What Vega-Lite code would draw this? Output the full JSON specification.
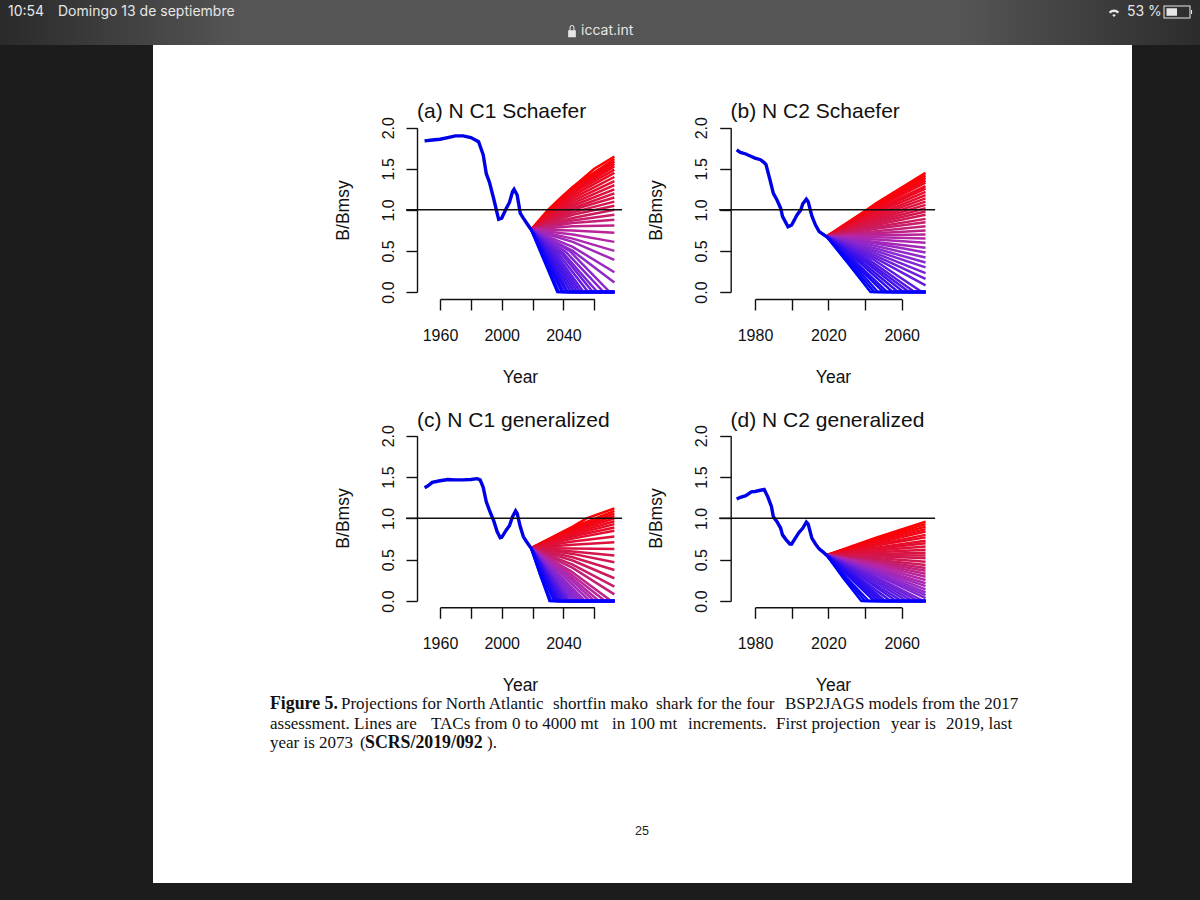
{"$schema":"https://vega.github.io/schema/vega-lite/v6.json","width":1200,"height":900,"padding":0,"autosize":"none","background":"#1c1c1c",
"config":{"view":{"stroke":null},"axis":{"domainColor":"#111","tickColor":"#111","domainWidth":1.4,"tickWidth":1.4,"tickSize":11,"grid":false,"labelFont":"Liberation Sans","titleFont":"Liberation Sans","labelColor":"#111","titleColor":"#111","titleFontWeight":"normal","labelFontSize":16,"titleFontSize":17.5,"labelOverlap":false,"labelFlush":false,"titleBaseline":"middle"}},
"resolve":{"scale":{"x":"independent","y":"independent","color":"independent"},"axis":{"x":"independent","y":"independent"}},
"datasets":{
"histA":[{"year":1950,"bb":1.84},{"year":1955,"bb":1.85},{"year":1960,"bb":1.86},{"year":1965,"bb":1.88},{"year":1970,"bb":1.9},{"year":1975,"bb":1.9},{"year":1980,"bb":1.88},{"year":1985,"bb":1.83},{"year":1988,"bb":1.67},{"year":1990,"bb":1.44},{"year":1992,"bb":1.34},{"year":1995,"bb":1.12},{"year":1997,"bb":0.96},{"year":1998,"bb":0.885},{"year":2000,"bb":0.9},{"year":2003,"bb":1.02},{"year":2005,"bb":1.09},{"year":2007,"bb":1.22},{"year":2008,"bb":1.25},{"year":2010,"bb":1.18},{"year":2012,"bb":0.96},{"year":2014,"bb":0.9},{"year":2017,"bb":0.815},{"year":2019,"bb":0.76}],
"histB":[{"year":1970,"bb":1.73},{"year":1972,"bb":1.7},{"year":1975,"bb":1.68},{"year":1978,"bb":1.65},{"year":1980,"bb":1.63},{"year":1983,"bb":1.61},{"year":1985,"bb":1.575},{"year":1986,"bb":1.55},{"year":1988,"bb":1.38},{"year":1990,"bb":1.2},{"year":1992,"bb":1.12},{"year":1994,"bb":1.02},{"year":1995,"bb":0.92},{"year":1998,"bb":0.795},{"year":2000,"bb":0.815},{"year":2003,"bb":0.94},{"year":2005,"bb":1.0},{"year":2006,"bb":1.07},{"year":2008,"bb":1.13},{"year":2009,"bb":1.1},{"year":2011,"bb":0.925},{"year":2013,"bb":0.815},{"year":2015,"bb":0.735},{"year":2017,"bb":0.705},{"year":2019,"bb":0.675}],
"histC":[{"year":1950,"bb":1.37},{"year":1952,"bb":1.39},{"year":1955,"bb":1.435},{"year":1960,"bb":1.455},{"year":1965,"bb":1.47},{"year":1970,"bb":1.465},{"year":1975,"bb":1.465},{"year":1980,"bb":1.47},{"year":1984,"bb":1.48},{"year":1986,"bb":1.465},{"year":1988,"bb":1.375},{"year":1990,"bb":1.2},{"year":1992,"bb":1.1},{"year":1995,"bb":0.96},{"year":1997,"bb":0.84},{"year":1999,"bb":0.765},{"year":2000,"bb":0.77},{"year":2003,"bb":0.86},{"year":2005,"bb":0.91},{"year":2007,"bb":1.02},{"year":2009,"bb":1.09},{"year":2010,"bb":1.06},{"year":2012,"bb":0.9},{"year":2014,"bb":0.78},{"year":2016,"bb":0.72},{"year":2019,"bb":0.64}],
"histD":[{"year":1970,"bb":1.235},{"year":1972,"bb":1.255},{"year":1975,"bb":1.275},{"year":1978,"bb":1.32},{"year":1980,"bb":1.325},{"year":1983,"bb":1.34},{"year":1985,"bb":1.35},{"year":1987,"bb":1.26},{"year":1989,"bb":1.14},{"year":1990,"bb":1.02},{"year":1992,"bb":0.96},{"year":1994,"bb":0.88},{"year":1995,"bb":0.8},{"year":1997,"bb":0.74},{"year":1999,"bb":0.69},{"year":2000,"bb":0.69},{"year":2002,"bb":0.76},{"year":2004,"bb":0.83},{"year":2006,"bb":0.88},{"year":2008,"bb":0.955},{"year":2009,"bb":0.93},{"year":2011,"bb":0.76},{"year":2013,"bb":0.69},{"year":2015,"bb":0.63},{"year":2017,"bb":0.595},{"year":2019,"bb":0.555}],
"projA":[{"tac":0,"year":2019,"bb":0.76},{"tac":0,"year":2030,"bb":1.0},{"tac":0,"year":2040,"bb":1.18},{"tac":0,"year":2060,"bb":1.5},{"tac":0,"year":2073,"bb":1.65},
{"tac":100,"year":2019,"bb":0.76},{"tac":100,"year":2046,"bb":1.28},{"tac":100,"year":2073,"bb":1.62},
{"tac":200,"year":2019,"bb":0.76},{"tac":200,"year":2046,"bb":1.26},{"tac":200,"year":2073,"bb":1.59},
{"tac":300,"year":2019,"bb":0.76},{"tac":300,"year":2046,"bb":1.24},{"tac":300,"year":2073,"bb":1.56},
{"tac":400,"year":2019,"bb":0.76},{"tac":400,"year":2046,"bb":1.22},{"tac":400,"year":2073,"bb":1.53},
{"tac":500,"year":2019,"bb":0.76},{"tac":500,"year":2046,"bb":1.2},{"tac":500,"year":2073,"bb":1.49},
{"tac":600,"year":2019,"bb":0.76},{"tac":600,"year":2046,"bb":1.17},{"tac":600,"year":2073,"bb":1.45},
{"tac":700,"year":2019,"bb":0.76},{"tac":700,"year":2046,"bb":1.14},{"tac":700,"year":2073,"bb":1.4},
{"tac":800,"year":2019,"bb":0.76},{"tac":800,"year":2046,"bb":1.11},{"tac":800,"year":2073,"bb":1.35},
{"tac":900,"year":2019,"bb":0.76},{"tac":900,"year":2046,"bb":1.08},{"tac":900,"year":2073,"bb":1.3},
{"tac":1000,"year":2019,"bb":0.76},{"tac":1000,"year":2046,"bb":1.05},{"tac":1000,"year":2073,"bb":1.25},
{"tac":1100,"year":2019,"bb":0.76},{"tac":1100,"year":2046,"bb":1.02},{"tac":1100,"year":2073,"bb":1.2},
{"tac":1200,"year":2019,"bb":0.76},{"tac":1200,"year":2046,"bb":1.0},{"tac":1200,"year":2073,"bb":1.15},
{"tac":1300,"year":2019,"bb":0.76},{"tac":1300,"year":2046,"bb":0.97},{"tac":1300,"year":2073,"bb":1.1},
{"tac":1400,"year":2019,"bb":0.76},{"tac":1400,"year":2046,"bb":0.94},{"tac":1400,"year":2073,"bb":1.05},
{"tac":1500,"year":2019,"bb":0.76},{"tac":1500,"year":2046,"bb":0.9},{"tac":1500,"year":2073,"bb":1.0},
{"tac":1600,"year":2019,"bb":0.76},{"tac":1600,"year":2046,"bb":0.87},{"tac":1600,"year":2073,"bb":0.94},
{"tac":1700,"year":2019,"bb":0.76},{"tac":1700,"year":2046,"bb":0.84},{"tac":1700,"year":2073,"bb":0.88},
{"tac":1800,"year":2019,"bb":0.76},{"tac":1800,"year":2046,"bb":0.8},{"tac":1800,"year":2073,"bb":0.81},
{"tac":1900,"year":2019,"bb":0.76},{"tac":1900,"year":2046,"bb":0.75},{"tac":1900,"year":2073,"bb":0.72},
{"tac":2000,"year":2019,"bb":0.76},{"tac":2000,"year":2046,"bb":0.7},{"tac":2000,"year":2073,"bb":0.61},
{"tac":2100,"year":2019,"bb":0.76},{"tac":2100,"year":2046,"bb":0.65},{"tac":2100,"year":2073,"bb":0.5},
{"tac":2200,"year":2019,"bb":0.76},{"tac":2200,"year":2046,"bb":0.61},{"tac":2200,"year":2073,"bb":0.39},
{"tac":2300,"year":2019,"bb":0.76},{"tac":2300,"year":2046,"bb":0.55},{"tac":2300,"year":2073,"bb":0.24},
{"tac":2400,"year":2019,"bb":0.76},{"tac":2400,"year":2046,"bb":0.5},{"tac":2400,"year":2073,"bb":0.115},
{"tac":2500,"year":2019,"bb":0.76},{"tac":2500,"year":2044,"bb":0.5},{"tac":2500,"year":2070,"bb":0},{"tac":2500,"year":2073,"bb":0},
{"tac":2600,"year":2019,"bb":0.76},{"tac":2600,"year":2042,"bb":0.48},{"tac":2600,"year":2066,"bb":0},{"tac":2600,"year":2073,"bb":0},
{"tac":2700,"year":2019,"bb":0.76},{"tac":2700,"year":2040,"bb":0.47},{"tac":2700,"year":2062,"bb":0},{"tac":2700,"year":2073,"bb":0},
{"tac":2800,"year":2019,"bb":0.76},{"tac":2800,"year":2039,"bb":0.46},{"tac":2800,"year":2059,"bb":0},{"tac":2800,"year":2073,"bb":0},
{"tac":2900,"year":2019,"bb":0.76},{"tac":2900,"year":2037,"bb":0.46},{"tac":2900,"year":2056,"bb":0},{"tac":2900,"year":2073,"bb":0},
{"tac":3000,"year":2019,"bb":0.76},{"tac":3000,"year":2036,"bb":0.44},{"tac":3000,"year":2053,"bb":0},{"tac":3000,"year":2073,"bb":0},
{"tac":3100,"year":2019,"bb":0.76},{"tac":3100,"year":2035,"bb":0.43},{"tac":3100,"year":2051,"bb":0},{"tac":3100,"year":2073,"bb":0},
{"tac":3200,"year":2019,"bb":0.76},{"tac":3200,"year":2034,"bb":0.42},{"tac":3200,"year":2049,"bb":0},{"tac":3200,"year":2073,"bb":0},
{"tac":3300,"year":2019,"bb":0.76},{"tac":3300,"year":2033,"bb":0.41},{"tac":3300,"year":2047,"bb":0},{"tac":3300,"year":2073,"bb":0},
{"tac":3400,"year":2019,"bb":0.76},{"tac":3400,"year":2032,"bb":0.4},{"tac":3400,"year":2045,"bb":0},{"tac":3400,"year":2073,"bb":0},
{"tac":3500,"year":2019,"bb":0.76},{"tac":3500,"year":2031,"bb":0.4},{"tac":3500,"year":2043,"bb":0},{"tac":3500,"year":2073,"bb":0},
{"tac":3600,"year":2019,"bb":0.76},{"tac":3600,"year":2030,"bb":0.39},{"tac":3600,"year":2042,"bb":0},{"tac":3600,"year":2073,"bb":0},
{"tac":3700,"year":2019,"bb":0.76},{"tac":3700,"year":2030,"bb":0.38},{"tac":3700,"year":2040,"bb":0},{"tac":3700,"year":2073,"bb":0},
{"tac":3800,"year":2019,"bb":0.76},{"tac":3800,"year":2029,"bb":0.38},{"tac":3800,"year":2039,"bb":0},{"tac":3800,"year":2073,"bb":0},
{"tac":3900,"year":2019,"bb":0.76},{"tac":3900,"year":2028,"bb":0.38},{"tac":3900,"year":2037,"bb":0},{"tac":3900,"year":2073,"bb":0},
{"tac":4000,"year":2019,"bb":0.76},{"tac":4000,"year":2027,"bb":0.4},{"tac":4000,"year":2036,"bb":0},{"tac":4000,"year":2073,"bb":0}],
"projB":[{"tac":0,"year":2019,"bb":0.675},{"tac":0,"year":2041,"bb":1.0},{"tac":0,"year":2046,"bb":1.08},{"tac":0,"year":2073,"bb":1.45},
{"tac":100,"year":2019,"bb":0.675},{"tac":100,"year":2046,"bb":1.07},{"tac":100,"year":2073,"bb":1.42},
{"tac":200,"year":2019,"bb":0.675},{"tac":200,"year":2046,"bb":1.05},{"tac":200,"year":2073,"bb":1.39},
{"tac":300,"year":2019,"bb":0.675},{"tac":300,"year":2046,"bb":1.04},{"tac":300,"year":2073,"bb":1.36},
{"tac":400,"year":2019,"bb":0.675},{"tac":400,"year":2046,"bb":1.02},{"tac":400,"year":2073,"bb":1.33},
{"tac":500,"year":2019,"bb":0.675},{"tac":500,"year":2046,"bb":1.0},{"tac":500,"year":2073,"bb":1.29},
{"tac":600,"year":2019,"bb":0.675},{"tac":600,"year":2046,"bb":0.985},{"tac":600,"year":2073,"bb":1.26},
{"tac":700,"year":2019,"bb":0.675},{"tac":700,"year":2046,"bb":0.965},{"tac":700,"year":2073,"bb":1.22},
{"tac":800,"year":2019,"bb":0.675},{"tac":800,"year":2046,"bb":0.94},{"tac":800,"year":2073,"bb":1.18},
{"tac":900,"year":2019,"bb":0.675},{"tac":900,"year":2046,"bb":0.92},{"tac":900,"year":2073,"bb":1.14},
{"tac":1000,"year":2019,"bb":0.675},{"tac":1000,"year":2046,"bb":0.9},{"tac":1000,"year":2073,"bb":1.1},
{"tac":1100,"year":2019,"bb":0.675},{"tac":1100,"year":2046,"bb":0.88},{"tac":1100,"year":2073,"bb":1.06},
{"tac":1200,"year":2019,"bb":0.675},{"tac":1200,"year":2046,"bb":0.86},{"tac":1200,"year":2073,"bb":1.02},
{"tac":1300,"year":2019,"bb":0.675},{"tac":1300,"year":2046,"bb":0.84},{"tac":1300,"year":2073,"bb":0.98},
{"tac":1400,"year":2019,"bb":0.675},{"tac":1400,"year":2046,"bb":0.815},{"tac":1400,"year":2073,"bb":0.94},
{"tac":1500,"year":2019,"bb":0.675},{"tac":1500,"year":2046,"bb":0.79},{"tac":1500,"year":2073,"bb":0.89},
{"tac":1600,"year":2019,"bb":0.675},{"tac":1600,"year":2046,"bb":0.77},{"tac":1600,"year":2073,"bb":0.85},
{"tac":1700,"year":2019,"bb":0.675},{"tac":1700,"year":2046,"bb":0.74},{"tac":1700,"year":2073,"bb":0.8},
{"tac":1800,"year":2019,"bb":0.675},{"tac":1800,"year":2046,"bb":0.715},{"tac":1800,"year":2073,"bb":0.75},
{"tac":1900,"year":2019,"bb":0.675},{"tac":1900,"year":2046,"bb":0.69},{"tac":1900,"year":2073,"bb":0.7},
{"tac":2000,"year":2019,"bb":0.675},{"tac":2000,"year":2046,"bb":0.665},{"tac":2000,"year":2073,"bb":0.65},
{"tac":2100,"year":2019,"bb":0.675},{"tac":2100,"year":2046,"bb":0.64},{"tac":2100,"year":2073,"bb":0.6},
{"tac":2200,"year":2019,"bb":0.675},{"tac":2200,"year":2046,"bb":0.61},{"tac":2200,"year":2073,"bb":0.54},
{"tac":2300,"year":2019,"bb":0.675},{"tac":2300,"year":2046,"bb":0.59},{"tac":2300,"year":2073,"bb":0.48},
{"tac":2400,"year":2019,"bb":0.675},{"tac":2400,"year":2046,"bb":0.56},{"tac":2400,"year":2073,"bb":0.42},
{"tac":2500,"year":2019,"bb":0.675},{"tac":2500,"year":2046,"bb":0.53},{"tac":2500,"year":2073,"bb":0.36},
{"tac":2600,"year":2019,"bb":0.675},{"tac":2600,"year":2046,"bb":0.5},{"tac":2600,"year":2073,"bb":0.3},
{"tac":2700,"year":2019,"bb":0.675},{"tac":2700,"year":2046,"bb":0.47},{"tac":2700,"year":2073,"bb":0.23},
{"tac":2800,"year":2019,"bb":0.675},{"tac":2800,"year":2046,"bb":0.44},{"tac":2800,"year":2073,"bb":0.16},
{"tac":2900,"year":2019,"bb":0.675},{"tac":2900,"year":2046,"bb":0.41},{"tac":2900,"year":2073,"bb":0.08},
{"tac":3000,"year":2019,"bb":0.675},{"tac":3000,"year":2045,"bb":0.39},{"tac":3000,"year":2071,"bb":0},{"tac":3000,"year":2073,"bb":0},
{"tac":3100,"year":2019,"bb":0.675},{"tac":3100,"year":2043,"bb":0.38},{"tac":3100,"year":2067,"bb":0},{"tac":3100,"year":2073,"bb":0},
{"tac":3200,"year":2019,"bb":0.675},{"tac":3200,"year":2041,"bb":0.38},{"tac":3200,"year":2064,"bb":0},{"tac":3200,"year":2073,"bb":0},
{"tac":3300,"year":2019,"bb":0.675},{"tac":3300,"year":2040,"bb":0.37},{"tac":3300,"year":2061,"bb":0},{"tac":3300,"year":2073,"bb":0},
{"tac":3400,"year":2019,"bb":0.675},{"tac":3400,"year":2038,"bb":0.37},{"tac":3400,"year":2058,"bb":0},{"tac":3400,"year":2073,"bb":0},
{"tac":3500,"year":2019,"bb":0.675},{"tac":3500,"year":2037,"bb":0.36},{"tac":3500,"year":2055,"bb":0},{"tac":3500,"year":2073,"bb":0},
{"tac":3600,"year":2019,"bb":0.675},{"tac":3600,"year":2035,"bb":0.36},{"tac":3600,"year":2052,"bb":0},{"tac":3600,"year":2073,"bb":0},
{"tac":3700,"year":2019,"bb":0.675},{"tac":3700,"year":2034,"bb":0.35},{"tac":3700,"year":2050,"bb":0},{"tac":3700,"year":2073,"bb":0},
{"tac":3800,"year":2019,"bb":0.675},{"tac":3800,"year":2033,"bb":0.35},{"tac":3800,"year":2047,"bb":0},{"tac":3800,"year":2073,"bb":0},
{"tac":3900,"year":2019,"bb":0.675},{"tac":3900,"year":2032,"bb":0.34},{"tac":3900,"year":2045,"bb":0},{"tac":3900,"year":2073,"bb":0},
{"tac":4000,"year":2019,"bb":0.675},{"tac":4000,"year":2031,"bb":0.34},{"tac":4000,"year":2043,"bb":0},{"tac":4000,"year":2073,"bb":0}],
"projC":[{"tac":0,"year":2019,"bb":0.64},{"tac":0,"year":2046,"bb":0.9},{"tac":0,"year":2055,"bb":1.0},{"tac":0,"year":2073,"bb":1.12},
{"tac":100,"year":2019,"bb":0.64},{"tac":100,"year":2046,"bb":0.89},{"tac":100,"year":2073,"bb":1.09},
{"tac":200,"year":2019,"bb":0.64},{"tac":200,"year":2046,"bb":0.87},{"tac":200,"year":2073,"bb":1.06},
{"tac":300,"year":2019,"bb":0.64},{"tac":300,"year":2046,"bb":0.855},{"tac":300,"year":2073,"bb":1.03},
{"tac":400,"year":2019,"bb":0.64},{"tac":400,"year":2046,"bb":0.84},{"tac":400,"year":2073,"bb":1.0},
{"tac":500,"year":2019,"bb":0.64},{"tac":500,"year":2046,"bb":0.82},{"tac":500,"year":2073,"bb":0.965},
{"tac":600,"year":2019,"bb":0.64},{"tac":600,"year":2046,"bb":0.8},{"tac":600,"year":2073,"bb":0.93},
{"tac":700,"year":2019,"bb":0.64},{"tac":700,"year":2046,"bb":0.78},{"tac":700,"year":2073,"bb":0.89},
{"tac":800,"year":2019,"bb":0.64},{"tac":800,"year":2046,"bb":0.755},{"tac":800,"year":2073,"bb":0.85},
{"tac":900,"year":2019,"bb":0.64},{"tac":900,"year":2046,"bb":0.72},{"tac":900,"year":2073,"bb":0.78},
{"tac":1000,"year":2019,"bb":0.64},{"tac":1000,"year":2046,"bb":0.68},{"tac":1000,"year":2073,"bb":0.71},
{"tac":1100,"year":2019,"bb":0.64},{"tac":1100,"year":2046,"bb":0.635},{"tac":1100,"year":2073,"bb":0.63},
{"tac":1200,"year":2019,"bb":0.64},{"tac":1200,"year":2046,"bb":0.6},{"tac":1200,"year":2073,"bb":0.55},
{"tac":1300,"year":2019,"bb":0.64},{"tac":1300,"year":2046,"bb":0.57},{"tac":1300,"year":2073,"bb":0.47},
{"tac":1400,"year":2019,"bb":0.64},{"tac":1400,"year":2046,"bb":0.53},{"tac":1400,"year":2073,"bb":0.375},
{"tac":1500,"year":2019,"bb":0.64},{"tac":1500,"year":2046,"bb":0.49},{"tac":1500,"year":2073,"bb":0.275},
{"tac":1600,"year":2019,"bb":0.64},{"tac":1600,"year":2046,"bb":0.44},{"tac":1600,"year":2073,"bb":0.173},
{"tac":1700,"year":2019,"bb":0.64},{"tac":1700,"year":2046,"bb":0.4},{"tac":1700,"year":2073,"bb":0.08},
{"tac":1800,"year":2019,"bb":0.64},{"tac":1800,"year":2045,"bb":0.36},{"tac":1800,"year":2071,"bb":0},{"tac":1800,"year":2073,"bb":0},
{"tac":1900,"year":2019,"bb":0.64},{"tac":1900,"year":2043,"bb":0.35},{"tac":1900,"year":2067,"bb":0},{"tac":1900,"year":2073,"bb":0},
{"tac":2000,"year":2019,"bb":0.64},{"tac":2000,"year":2041,"bb":0.35},{"tac":2000,"year":2063,"bb":0},{"tac":2000,"year":2073,"bb":0},
{"tac":2100,"year":2019,"bb":0.64},{"tac":2100,"year":2040,"bb":0.34},{"tac":2100,"year":2060,"bb":0},{"tac":2100,"year":2073,"bb":0},
{"tac":2200,"year":2019,"bb":0.64},{"tac":2200,"year":2038,"bb":0.34},{"tac":2200,"year":2057,"bb":0},{"tac":2200,"year":2073,"bb":0},
{"tac":2300,"year":2019,"bb":0.64},{"tac":2300,"year":2036,"bb":0.34},{"tac":2300,"year":2054,"bb":0},{"tac":2300,"year":2073,"bb":0},
{"tac":2400,"year":2019,"bb":0.64},{"tac":2400,"year":2035,"bb":0.34},{"tac":2400,"year":2052,"bb":0},{"tac":2400,"year":2073,"bb":0},
{"tac":2500,"year":2019,"bb":0.64},{"tac":2500,"year":2034,"bb":0.34},{"tac":2500,"year":2050,"bb":0},{"tac":2500,"year":2073,"bb":0},
{"tac":2600,"year":2019,"bb":0.64},{"tac":2600,"year":2033,"bb":0.34},{"tac":2600,"year":2048,"bb":0},{"tac":2600,"year":2073,"bb":0},
{"tac":2700,"year":2019,"bb":0.64},{"tac":2700,"year":2032,"bb":0.33},{"tac":2700,"year":2046,"bb":0},{"tac":2700,"year":2073,"bb":0},
{"tac":2800,"year":2019,"bb":0.64},{"tac":2800,"year":2031,"bb":0.33},{"tac":2800,"year":2044,"bb":0},{"tac":2800,"year":2073,"bb":0},
{"tac":2900,"year":2019,"bb":0.64},{"tac":2900,"year":2031,"bb":0.33},{"tac":2900,"year":2043,"bb":0},{"tac":2900,"year":2073,"bb":0},
{"tac":3000,"year":2019,"bb":0.64},{"tac":3000,"year":2030,"bb":0.33},{"tac":3000,"year":2042,"bb":0},{"tac":3000,"year":2073,"bb":0},
{"tac":3100,"year":2019,"bb":0.64},{"tac":3100,"year":2030,"bb":0.33},{"tac":3100,"year":2041,"bb":0},{"tac":3100,"year":2073,"bb":0},
{"tac":3200,"year":2019,"bb":0.64},{"tac":3200,"year":2029,"bb":0.33},{"tac":3200,"year":2040,"bb":0},{"tac":3200,"year":2073,"bb":0},
{"tac":3300,"year":2019,"bb":0.64},{"tac":3300,"year":2029,"bb":0.33},{"tac":3300,"year":2039,"bb":0},{"tac":3300,"year":2073,"bb":0},
{"tac":3400,"year":2019,"bb":0.64},{"tac":3400,"year":2028,"bb":0.33},{"tac":3400,"year":2038,"bb":0},{"tac":3400,"year":2073,"bb":0},
{"tac":3500,"year":2019,"bb":0.64},{"tac":3500,"year":2028,"bb":0.33},{"tac":3500,"year":2037,"bb":0},{"tac":3500,"year":2073,"bb":0},
{"tac":3600,"year":2019,"bb":0.64},{"tac":3600,"year":2027,"bb":0.32},{"tac":3600,"year":2036,"bb":0},{"tac":3600,"year":2073,"bb":0},
{"tac":3700,"year":2019,"bb":0.64},{"tac":3700,"year":2027,"bb":0.32},{"tac":3700,"year":2035,"bb":0},{"tac":3700,"year":2073,"bb":0},
{"tac":3800,"year":2019,"bb":0.64},{"tac":3800,"year":2026,"bb":0.32},{"tac":3800,"year":2034,"bb":0},{"tac":3800,"year":2073,"bb":0},
{"tac":3900,"year":2019,"bb":0.64},{"tac":3900,"year":2025,"bb":0.32},{"tac":3900,"year":2032,"bb":0},{"tac":3900,"year":2073,"bb":0},
{"tac":4000,"year":2019,"bb":0.64},{"tac":4000,"year":2025,"bb":0.31},{"tac":4000,"year":2031,"bb":0},{"tac":4000,"year":2073,"bb":0}],
"projD":[{"tac":0,"year":2019,"bb":0.555},{"tac":0,"year":2046,"bb":0.765},{"tac":0,"year":2073,"bb":0.96},
{"tac":100,"year":2019,"bb":0.555},{"tac":100,"year":2046,"bb":0.75},{"tac":100,"year":2073,"bb":0.93},
{"tac":200,"year":2019,"bb":0.555},{"tac":200,"year":2046,"bb":0.735},{"tac":200,"year":2073,"bb":0.9},
{"tac":300,"year":2019,"bb":0.555},{"tac":300,"year":2046,"bb":0.72},{"tac":300,"year":2073,"bb":0.87},
{"tac":400,"year":2019,"bb":0.555},{"tac":400,"year":2046,"bb":0.7},{"tac":400,"year":2073,"bb":0.84},
{"tac":500,"year":2019,"bb":0.555},{"tac":500,"year":2046,"bb":0.68},{"tac":500,"year":2073,"bb":0.8},
{"tac":600,"year":2019,"bb":0.555},{"tac":600,"year":2046,"bb":0.67},{"tac":600,"year":2073,"bb":0.77},
{"tac":700,"year":2019,"bb":0.555},{"tac":700,"year":2046,"bb":0.645},{"tac":700,"year":2073,"bb":0.73},
{"tac":800,"year":2019,"bb":0.555},{"tac":800,"year":2046,"bb":0.63},{"tac":800,"year":2073,"bb":0.7},
{"tac":900,"year":2019,"bb":0.555},{"tac":900,"year":2046,"bb":0.61},{"tac":900,"year":2073,"bb":0.66},
{"tac":1000,"year":2019,"bb":0.555},{"tac":1000,"year":2046,"bb":0.59},{"tac":1000,"year":2073,"bb":0.62},
{"tac":1100,"year":2019,"bb":0.555},{"tac":1100,"year":2046,"bb":0.57},{"tac":1100,"year":2073,"bb":0.585},
{"tac":1200,"year":2019,"bb":0.555},{"tac":1200,"year":2046,"bb":0.555},{"tac":1200,"year":2073,"bb":0.55},
{"tac":1300,"year":2019,"bb":0.555},{"tac":1300,"year":2046,"bb":0.54},{"tac":1300,"year":2073,"bb":0.516},
{"tac":1400,"year":2019,"bb":0.555},{"tac":1400,"year":2046,"bb":0.52},{"tac":1400,"year":2073,"bb":0.475},
{"tac":1500,"year":2019,"bb":0.555},{"tac":1500,"year":2046,"bb":0.5},{"tac":1500,"year":2073,"bb":0.435},
{"tac":1600,"year":2019,"bb":0.555},{"tac":1600,"year":2046,"bb":0.485},{"tac":1600,"year":2073,"bb":0.4},
{"tac":1700,"year":2019,"bb":0.555},{"tac":1700,"year":2046,"bb":0.47},{"tac":1700,"year":2073,"bb":0.367},
{"tac":1800,"year":2019,"bb":0.555},{"tac":1800,"year":2046,"bb":0.455},{"tac":1800,"year":2073,"bb":0.33},
{"tac":1900,"year":2019,"bb":0.555},{"tac":1900,"year":2046,"bb":0.44},{"tac":1900,"year":2073,"bb":0.294},
{"tac":2000,"year":2019,"bb":0.555},{"tac":2000,"year":2046,"bb":0.42},{"tac":2000,"year":2073,"bb":0.255},
{"tac":2100,"year":2019,"bb":0.555},{"tac":2100,"year":2046,"bb":0.4},{"tac":2100,"year":2073,"bb":0.214},
{"tac":2200,"year":2019,"bb":0.555},{"tac":2200,"year":2046,"bb":0.385},{"tac":2200,"year":2073,"bb":0.18},
{"tac":2300,"year":2019,"bb":0.555},{"tac":2300,"year":2046,"bb":0.37},{"tac":2300,"year":2073,"bb":0.14},
{"tac":2400,"year":2019,"bb":0.555},{"tac":2400,"year":2046,"bb":0.35},{"tac":2400,"year":2073,"bb":0.105},
{"tac":2500,"year":2019,"bb":0.555},{"tac":2500,"year":2046,"bb":0.335},{"tac":2500,"year":2073,"bb":0.07},
{"tac":2600,"year":2019,"bb":0.555},{"tac":2600,"year":2046,"bb":0.32},{"tac":2600,"year":2073,"bb":0.035},
{"tac":2700,"year":2019,"bb":0.555},{"tac":2700,"year":2045,"bb":0.3},{"tac":2700,"year":2072,"bb":0},{"tac":2700,"year":2073,"bb":0},
{"tac":2800,"year":2019,"bb":0.555},{"tac":2800,"year":2044,"bb":0.3},{"tac":2800,"year":2069,"bb":0},{"tac":2800,"year":2073,"bb":0},
{"tac":2900,"year":2019,"bb":0.555},{"tac":2900,"year":2042,"bb":0.3},{"tac":2900,"year":2066,"bb":0},{"tac":2900,"year":2073,"bb":0},
{"tac":3000,"year":2019,"bb":0.555},{"tac":3000,"year":2041,"bb":0.29},{"tac":3000,"year":2063,"bb":0},{"tac":3000,"year":2073,"bb":0},
{"tac":3100,"year":2019,"bb":0.555},{"tac":3100,"year":2039,"bb":0.29},{"tac":3100,"year":2060,"bb":0},{"tac":3100,"year":2073,"bb":0},
{"tac":3200,"year":2019,"bb":0.555},{"tac":3200,"year":2038,"bb":0.29},{"tac":3200,"year":2057,"bb":0},{"tac":3200,"year":2073,"bb":0},
{"tac":3300,"year":2019,"bb":0.555},{"tac":3300,"year":2036,"bb":0.29},{"tac":3300,"year":2054,"bb":0},{"tac":3300,"year":2073,"bb":0},
{"tac":3400,"year":2019,"bb":0.555},{"tac":3400,"year":2035,"bb":0.29},{"tac":3400,"year":2051,"bb":0},{"tac":3400,"year":2073,"bb":0},
{"tac":3500,"year":2019,"bb":0.555},{"tac":3500,"year":2034,"bb":0.29},{"tac":3500,"year":2049,"bb":0},{"tac":3500,"year":2073,"bb":0},
{"tac":3600,"year":2019,"bb":0.555},{"tac":3600,"year":2033,"bb":0.285},{"tac":3600,"year":2047,"bb":0},{"tac":3600,"year":2073,"bb":0},
{"tac":3700,"year":2019,"bb":0.555},{"tac":3700,"year":2032,"bb":0.28},{"tac":3700,"year":2045,"bb":0},{"tac":3700,"year":2073,"bb":0},
{"tac":3800,"year":2019,"bb":0.555},{"tac":3800,"year":2030,"bb":0.28},{"tac":3800,"year":2042,"bb":0},{"tac":3800,"year":2073,"bb":0},
{"tac":3900,"year":2019,"bb":0.555},{"tac":3900,"year":2029,"bb":0.28},{"tac":3900,"year":2040,"bb":0},{"tac":3900,"year":2073,"bb":0},
{"tac":4000,"year":2019,"bb":0.555},{"tac":4000,"year":2028,"bb":0.28},{"tac":4000,"year":2038,"bb":0},{"tac":4000,"year":2073,"bb":0}]
},
"layer":[
{"data":{"values":[{"part":"page"}]},"mark":{"type":"rect","color":"#ffffff"},"encoding":{"x":{"datum":0,"type":"quantitative","scale":{"domain":[0,1],"range":[153,1132]},"axis":null},"x2":{"datum":1},"y":{"datum":0,"type":"quantitative","scale":{"domain":[0,1],"range":[45,883]},"axis":null},"y2":{"datum":1}}},
{"data":{"values":[{"part":"statusbar"}]},"mark":{"type":"rect","color":{"gradient":"linear","x1":0,"x2":1,"y1":0,"y2":0,"stops":[{"offset":0,"color":"#2a2a2a"},{"offset":0.2,"color":"#555555"},{"offset":0.8,"color":"#555555"},{"offset":1,"color":"#2c2c2c"}]}},"encoding":{"x":{"datum":0,"type":"quantitative","scale":{"domain":[0,1],"range":[0,1200]},"axis":null},"x2":{"datum":1},"y":{"datum":0,"type":"quantitative","scale":{"domain":[0,1],"range":[0,45]},"axis":null},"y2":{"datum":1}}},
{"data":{"values":[{"label":"10:54","slot":0,"row":0},{"label":"Domingo 13 de septiembre","slot":1,"row":0},{"label":"iccat.int","slot":2,"row":1},{"label":"53 %","slot":3,"row":0}]},"mark":{"type":"text","align":"left","baseline":"middle","font":"Inter","fontSize":14,"color":"#e6e6e6"},"encoding":{"x":{"field":"slot","type":"quantitative","scale":{"domain":[0,1,2,3],"range":[8,58,581,1127]},"axis":null},"y":{"field":"row","type":"quantitative","scale":{"domain":[0,1],"range":[12,31]},"axis":null},"text":{"field":"label"}}},
{"data":{"values":[{"icon":"wifi","slot":0,"row":0},{"icon":"lock","slot":1,"row":1},{"icon":"battery","slot":2,"row":0}]},"mark":{"type":"point","filled":true,"size":196,"color":"#e6e6e6","opacity":1},"encoding":{"x":{"field":"slot","type":"quantitative","scale":{"domain":[0,1,2],"range":[1114,572,1177]},"axis":null},"y":{"field":"row","type":"quantitative","scale":{"domain":[0,1],"range":[12,31]},"axis":null},"shape":{"field":"icon","type":"nominal","legend":null,"scale":{"domain":["wifi","lock","battery"],"range":["M-0.75 -0.05Q0 -0.7 0.75 -0.05L0.5 0.2Q0 -0.2 -0.5 0.2ZM-0.25 0.45Q0 0.2 0.25 0.45L0 0.7Z","M-0.55 -0.1H0.55V0.9H-0.55ZM-0.35 -0.1V-0.5A0.35 0.35 0 0 1 0.35 -0.5V-0.1H0.2V-0.5A0.2 0.2 0 0 0 -0.2 -0.5V-0.1Z","M-1.93 -0.93H1.93V0.93H-1.93ZM-1.78 -0.78V0.78H1.78V-0.78ZM-1.5 -0.55H0V0.55H-1.5ZM2 -0.3H2.15V0.3H2Z"]}}}},
{"data":{"values":[{"label":"Projections for North Atlantic","slot":1,"line":1},{"label":"shortfin mako","slot":7,"line":1},{"label":"shark for the four","slot":9,"line":1},{"label":"BSP2JAGS models from the 2017","slot":12,"line":1},{"label":"assessment. Lines are","slot":0,"line":2},{"label":"TACs from","slot":4,"line":2},{"label":"0 to 4000 mt","slot":6,"line":2},{"label":"in 100 mt","slot":8,"line":2},{"label":"increments.","slot":10,"line":2},{"label":"First projection","slot":11,"line":2},{"label":"year is","slot":13,"line":2},{"label":"2019, last","slot":14,"line":2},{"label":"year is 2073","slot":0,"line":3},{"label":"(","slot":2,"line":3},{"label":").","slot":5,"line":3}]},"mark":{"type":"text","align":"left","baseline":"alphabetic","font":"Liberation Serif","fontSize":17,"color":"#111"},"encoding":{"x":{"field":"slot","type":"quantitative","scale":{"domain":[0,1,2,3,4,5,6,7,8,9,10,11,12,13,14],"range":[270,341,360,365,431,487,512,553,612,656,688,776,785,891,946]},"axis":null},"y":{"field":"line","type":"quantitative","scale":{"domain":[1,2,3],"range":[709.3,729,748.3]},"axis":null},"text":{"field":"label"}}},
{"data":{"values":[{"label":"Figure 5.","slot":0,"line":1},{"label":"SCRS/2019/092","slot":3,"line":3}]},"mark":{"type":"text","align":"left","baseline":"alphabetic","font":"Liberation Serif","fontWeight":"bold","fontSize":17.8,"color":"#111"},"encoding":{"x":{"field":"slot","type":"quantitative","scale":{"domain":[0,1,2,3,4,5,6,7,8,9,10,11,12,13,14],"range":[270,341,360,365,431,487,512,553,612,656,688,776,785,891,946]},"axis":null},"y":{"field":"line","type":"quantitative","scale":{"domain":[1,2,3],"range":[709.3,729,748.3]},"axis":null},"text":{"field":"label"}}},
{"data":{"values":[{"label":"25"}]},"mark":{"type":"text","align":"center","baseline":"middle","font":"Liberation Sans","fontSize":12.5,"color":"#222"},"encoding":{"x":{"datum":0,"type":"quantitative","scale":{"domain":[0,1],"range":[642,643]},"axis":null},"y":{"datum":0,"type":"quantitative","scale":{"domain":[0,1],"range":[831,832]},"axis":null},"text":{"field":"label"}}},
{"encoding":{"x":{"field":"year","type":"quantitative","scale":{"domain":[1960,2060],"range":[440,594.3],"nice":false,"zero":false},"axis":{"zindex":1,"orient":"bottom","offset":-601,"values":[1960,1980,2000,2020,2040,2060],"format":"d","labelExpr":"datum.value==1980||datum.value==2020||datum.value==2060?'':datum.label","labelPadding":17,"title":"Year","titleX":520,"titleY":78}},"y":{"field":"bb","type":"quantitative","scale":{"domain":[0,2],"range":[292,127.7],"nice":false,"zero":false},"axis":{"zindex":1,"orient":"left","offset":-417,"values":[0,0.5,1,1.5,2],"format":".1f","labelAngle":-90,"labelAlign":"center","labelBaseline":"alphabetic","labelPadding":13,"title":"B/Bmsy","titleX":-74,"titleY":210}}},
"layer":[
{"data":{"name":"projA"},"mark":{"type":"line","strokeWidth":2.5},"encoding":{"detail":{"field":"tac"},"color":{"field":"tac","type":"quantitative","legend":null,"scale":{"domain":[0,1500,2000,2500,4000],"range":["#ff0000","#cc1a5a","#b428a8","#8a28d0","#0000ff"],"interpolate":"rgb"}}}},
{"data":{"name":"histA"},"mark":{"type":"line","strokeWidth":3.4,"color":"#0000e6"}},
{"data":{"values":[{"year":1938,"to":2078,"bb":1}]},"mark":{"type":"rule","color":"#111","strokeWidth":1.5},"encoding":{"x2":{"field":"to"}}},
{"data":{"values":[{"year":1945.1,"bb":2.117,"label":"(a) N C1 Schaefer"}]},"mark":{"type":"text","align":"left","baseline":"alphabetic","font":"Liberation Sans","fontSize":21,"color":"#111"},"encoding":{"text":{"field":"label"}}}
]},
{"encoding":{"x":{"field":"year","type":"quantitative","scale":{"domain":[1980,2060],"range":[755,901.7],"nice":false,"zero":false},"axis":{"zindex":1,"orient":"bottom","offset":-601,"values":[1980,2000,2020,2040,2060],"format":"d","labelExpr":"datum.value==2000||datum.value==2040?'':datum.label","labelPadding":17,"title":"Year","titleX":833,"titleY":78}},"y":{"field":"bb","type":"quantitative","scale":{"domain":[0,2],"range":[292,127.7],"nice":false,"zero":false},"axis":{"zindex":1,"orient":"left","offset":-730.7,"values":[0,0.5,1,1.5,2],"format":".1f","labelAngle":-90,"labelAlign":"center","labelBaseline":"alphabetic","labelPadding":13,"title":"B/Bmsy","titleX":-74.7,"titleY":210}}},
"layer":[
{"data":{"name":"projB"},"mark":{"type":"line","strokeWidth":2.5},"encoding":{"detail":{"field":"tac"},"color":{"field":"tac","type":"quantitative","legend":null,"scale":{"domain":[0,1500,2000,2500,4000],"range":["#ff0000","#cc1a5a","#b428a8","#8a28d0","#0000ff"],"interpolate":"rgb"}}}},
{"data":{"name":"histB"},"mark":{"type":"line","strokeWidth":3.4,"color":"#0000e6"}},
{"data":{"values":[{"year":1960.4,"to":2078.2,"bb":1}]},"mark":{"type":"rule","color":"#111","strokeWidth":1.5},"encoding":{"x2":{"field":"to"}}},
{"data":{"values":[{"year":1966.7,"bb":2.117,"label":"(b) N C2 Schaefer"}]},"mark":{"type":"text","align":"left","baseline":"alphabetic","font":"Liberation Sans","fontSize":21,"color":"#111"},"encoding":{"text":{"field":"label"}}}
]},
{"encoding":{"x":{"field":"year","type":"quantitative","scale":{"domain":[1960,2060],"range":[440,594.3],"nice":false,"zero":false},"axis":{"zindex":1,"orient":"bottom","offset":-292.7,"values":[1960,1980,2000,2020,2040,2060],"format":"d","labelExpr":"datum.value==1980||datum.value==2020||datum.value==2060?'':datum.label","labelPadding":17,"title":"Year","titleX":520,"titleY":78}},"y":{"field":"bb","type":"quantitative","scale":{"domain":[0,2],"range":[601,435.7],"nice":false,"zero":false},"axis":{"zindex":1,"orient":"left","offset":-417,"values":[0,0.5,1,1.5,2],"format":".1f","labelAngle":-90,"labelAlign":"center","labelBaseline":"alphabetic","labelPadding":13,"title":"B/Bmsy","titleX":-74,"titleY":518}}},
"layer":[
{"data":{"name":"projC"},"mark":{"type":"line","strokeWidth":2.5},"encoding":{"detail":{"field":"tac"},"color":{"field":"tac","type":"quantitative","legend":null,"scale":{"domain":[0,1500,2000,2500,4000],"range":["#ff0000","#cc1a5a","#b428a8","#8a28d0","#0000ff"],"interpolate":"rgb"}}}},
{"data":{"name":"histC"},"mark":{"type":"line","strokeWidth":3.4,"color":"#0000e6"}},
{"data":{"values":[{"year":1938,"to":2078,"bb":1}]},"mark":{"type":"rule","color":"#111","strokeWidth":1.5},"encoding":{"x2":{"field":"to"}}},
{"data":{"values":[{"year":1945.1,"bb":2.11,"label":"(c) N C1 generalized"}]},"mark":{"type":"text","align":"left","baseline":"alphabetic","font":"Liberation Sans","fontSize":21,"color":"#111"},"encoding":{"text":{"field":"label"}}}
]},
{"encoding":{"x":{"field":"year","type":"quantitative","scale":{"domain":[1980,2060],"range":[755,901.7],"nice":false,"zero":false},"axis":{"zindex":1,"orient":"bottom","offset":-292.7,"values":[1980,2000,2020,2040,2060],"format":"d","labelExpr":"datum.value==2000||datum.value==2040?'':datum.label","labelPadding":17,"title":"Year","titleX":833,"titleY":78}},"y":{"field":"bb","type":"quantitative","scale":{"domain":[0,2],"range":[601,435.7],"nice":false,"zero":false},"axis":{"zindex":1,"orient":"left","offset":-730.7,"values":[0,0.5,1,1.5,2],"format":".1f","labelAngle":-90,"labelAlign":"center","labelBaseline":"alphabetic","labelPadding":13,"title":"B/Bmsy","titleX":-74.7,"titleY":518}}},
"layer":[
{"data":{"name":"projD"},"mark":{"type":"line","strokeWidth":2.5},"encoding":{"detail":{"field":"tac"},"color":{"field":"tac","type":"quantitative","legend":null,"scale":{"domain":[0,1500,2000,2500,4000],"range":["#ff0000","#cc1a5a","#b428a8","#8a28d0","#0000ff"],"interpolate":"rgb"}}}},
{"data":{"name":"histD"},"mark":{"type":"line","strokeWidth":3.4,"color":"#0000e6"}},
{"data":{"values":[{"year":1960.4,"to":2078.2,"bb":1}]},"mark":{"type":"rule","color":"#111","strokeWidth":1.5},"encoding":{"x2":{"field":"to"}}},
{"data":{"values":[{"year":1966.7,"bb":2.11,"label":"(d) N C2 generalized"}]},"mark":{"type":"text","align":"left","baseline":"alphabetic","font":"Liberation Sans","fontSize":21,"color":"#111"},"encoding":{"text":{"field":"label"}}}
]}
]}
